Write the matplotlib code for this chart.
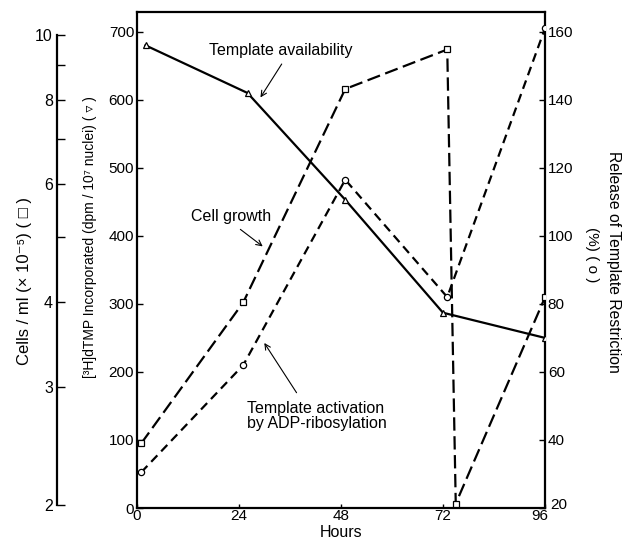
import matplotlib
matplotlib.use('Agg')
import matplotlib.pyplot as plt
import matplotlib.transforms as mtransforms
from matplotlib.ticker import FixedLocator, NullFormatter

plt.rcParams['font.family'] = ['Liberation Sans', 'DejaVu Sans']

# template availability, [3H]dTMP incorporated (left axis, triangles)
hours_avail = [2, 26, 49, 72, 96]
dtmp = [680, 610, 453, 287, 250]

# cell growth, cells/ml x 1e-5 (far left log axis, squares)
hours_cells = [1, 25, 49, 73, 75, 96]
cells = [2.47, 4.0, 8.3, 9.5, 2.01, 4.07]

# template activation, release of template restriction % (right axis, circles)
hours_release = [1, 25, 49, 73, 96]
release = [30.5, 62, 116.5, 82, 161]

x_ticks = [0, 24, 48, 72, 96]
left_ticks = [0, 100, 200, 300, 400, 500, 600, 700]
right_ticks = [20, 40, 60, 80, 100, 120, 140, 160]
cell_ticks = [2, 3, 4, 6, 8, 10]
cell_minor = [5, 7, 9]

fig = plt.figure(figsize=(6.25, 5.45), dpi=100)
ax = fig.add_axes([137 / 625, 37 / 545, 408 / 625, 496 / 545])

lw = 1.6
for s in ax.spines.values():
    s.set_linewidth(lw)

ax.set_xlim(0, 96)
ax.set_ylim(0, 729)
ax.set_xticks(x_ticks)
ax.set_yticks(left_ticks)
ax.tick_params(axis='x', direction='in', length=3, width=1, labelsize=11, pad=1)
ax.tick_params(axis='y', direction='in', length=4, width=1, labelsize=11, pad=2)

ax.plot(hours_avail, dtmp, color='black', lw=lw, marker='^', ms=4,
        mfc='white', mec='black', mew=0.9, zorder=3)

# right axis
axr = ax.twinx()
axr.set_ylim(20, 20 + 729 / 5)
axr.set_yticks(right_ticks)
axr.tick_params(axis='y', direction='in', length=4, width=1, labelsize=11, pad=2)
for s in axr.spines.values():
    s.set_visible(False)
axr.plot(hours_release, release, color='black', lw=lw, ls=(0, (4, 2.5)),
         marker='o', ms=4.5, mfc='white', mec='black', mew=0.9, zorder=3)

# far left log axis for cells
axc = ax.twinx()
axc.set_yscale('log')
axc.set_ylim(1.98, 10.8)
for k in ['right', 'top', 'bottom']:
    axc.spines[k].set_visible(False)
axc.spines['left'].set_position(('axes', -0.196))
axc.spines['left'].set_bounds(2, 10)
axc.spines['left'].set_linewidth(lw)
axc.yaxis.set_ticks_position('left')
axc.yaxis.set_label_position('left')
axc.yaxis.set_major_locator(FixedLocator(cell_ticks))
axc.yaxis.set_minor_locator(FixedLocator(cell_minor))
axc.yaxis.set_minor_formatter(NullFormatter())
axc.set_yticklabels([str(v) for v in cell_ticks])
axc.tick_params(axis='y', which='both', direction='in', length=6, width=1,
                labelsize=11.5, pad=3)
axc.plot(hours_cells, cells, color='black', lw=lw, ls=(0, (6, 2.5)),
         marker='s', ms=4, mfc='white', mec='black', mew=0.9, zorder=3)

# nudge the corner labels "96" and "20" apart, as in the original
fig.canvas.draw()
ax.get_xticklabels()[-1].set_transform(
    ax.get_xticklabels()[-1].get_transform()
    + mtransforms.ScaledTranslation(-4 / 72, 0, fig.dpi_scale_trans))
axr.get_yticklabels()[0].set_transform(
    axr.get_yticklabels()[0].get_transform()
    + mtransforms.ScaledTranslation(2 / 72, 3 / 72, fig.dpi_scale_trans))

# axis labels
ax.set_xlabel('Hours', fontsize=11.5, labelpad=1)
fig.text(90 / 625, 1 - 237 / 545,
         '[³H]dTMP Incorporated (dpm / 10⁷ nuclei) ( ▿ )',
         rotation=90, ha='center', va='center', fontsize=10)
fig.text(25 / 625, 1 - 281 / 545, 'Cells / ml (× 10⁻⁵) ( □ )',
         rotation=90, ha='center', va='center', fontsize=12)
fig.text(614 / 625, 1 - 262 / 545, 'Release of Template Restriction',
         rotation=-90, ha='center', va='center', fontsize=11.3)
fig.text(592 / 625, 1 - 255 / 545, '(%) ( o )',
         rotation=-90, ha='center', va='center', fontsize=11)

# annotations
arrow = dict(arrowstyle='->', color='black', lw=0.8)
ax.text(33.9, 673, 'Template availability', ha='center', va='center', fontsize=11.5)
ax.annotate('', xy=(28.7, 600), xytext=(34.4, 656), arrowprops=arrow)
ax.text(22.1, 428, 'Cell growth', ha='center', va='center', fontsize=11.5)
ax.annotate('', xy=(30.1, 382), xytext=(23.8, 412), arrowprops=arrow)
ax.text(25.9, 135, 'Template activation\nby ADP-ribosylation', ha='left',
        va='center', fontsize=11.5, linespacing=1.05)
ax.annotate('', xy=(29.6, 246), xytext=(37.9, 166), arrowprops=arrow)

fig.savefig('out.png', dpi=100)
